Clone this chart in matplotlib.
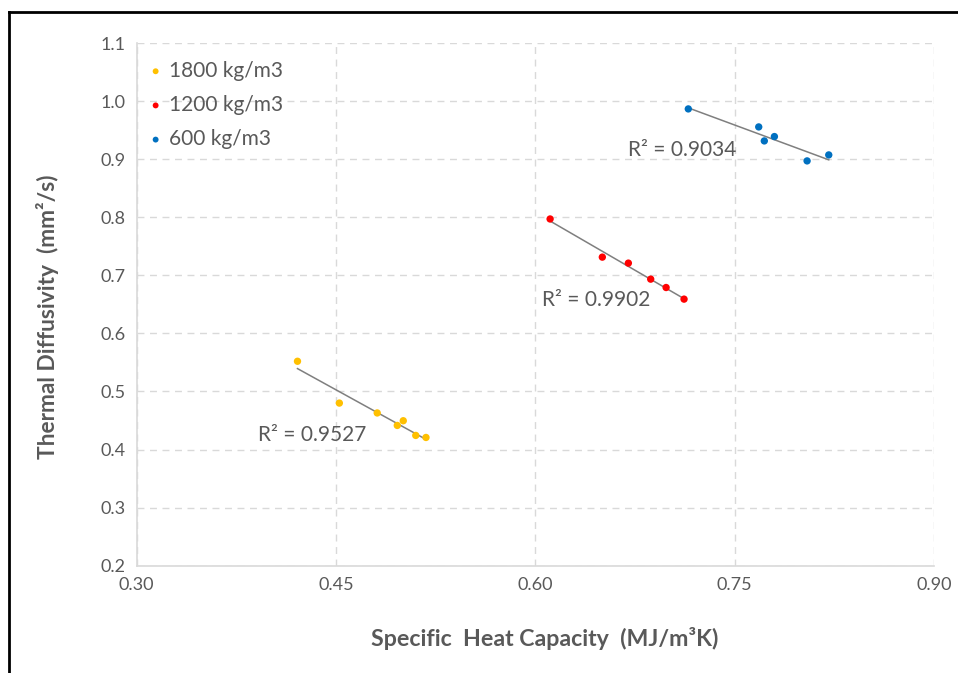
import numpy as np
import matplotlib
matplotlib.use('Agg')
import matplotlib.pyplot as plt
from matplotlib.lines import Line2D

plt.rcParams['font.family'] = ['Lato', 'DejaVu Sans']

# data
cap_1800 = [0.421, 0.4525, 0.481, 0.5006, 0.4961, 0.510, 0.5177]
dif_1800 = [0.552, 0.480, 0.463, 0.4496, 0.4415, 0.4243, 0.4208]

cap_1200 = [0.6111, 0.6504, 0.670, 0.6868, 0.6984, 0.7119]
dif_1200 = [0.797, 0.7313, 0.721, 0.6934, 0.679, 0.659]

cap_600 = [0.7151, 0.7681, 0.7723, 0.7799, 0.8045, 0.8208]
dif_600 = [0.9865, 0.9555, 0.9314, 0.9389, 0.897, 0.9073]

labels = ['1800 kg/m3', '1200 kg/m3', '600 kg/m3']
r2_text = ['R² = 0.9527', 'R² = 0.9902', 'R² = 0.9034']
r2_pos = [(0.391, 0.425), (0.605, 0.6575), (0.6698, 0.9157)]
colors = ['#FFC000', '#FF0000', '#0070C0']

x_ticks = [0.30, 0.45, 0.60, 0.75, 0.90]
y_ticks = [0.2, 0.3, 0.4, 0.5, 0.6, 0.7, 0.8, 0.9, 1.0, 1.1]

txt = '#595959'

fig = plt.figure(figsize=(9.58, 6.73), dpi=100)
ax = fig.add_axes([136.7 / 958, 1 - 565.7 / 673, (934 - 136.7) / 958, (565.7 - 43) / 673])

series = [(cap_1800, dif_1800), (cap_1200, dif_1200), (cap_600, dif_600)]
for (x, y), c, lab, r2, pos in zip(series, colors, labels, r2_text, r2_pos):
    x = np.array(x)
    y = np.array(y)
    k, b = np.polyfit(x, y, 1)
    xs = np.array([x.min(), x.max()])
    ax.plot(xs, k * xs + b, color='#7f7f7f', lw=1.1, zorder=2)
    ax.scatter(x, y, s=28, color=c, zorder=3, label=lab, edgecolors='none')
    ax.text(pos[0], pos[1], r2, color=txt, fontsize=15, va='center', ha='left')

ax.set_xlim(0.30, 0.90)
ax.set_ylim(0.2, 1.1)
ax.set_xticks(x_ticks)
ax.set_xticklabels(['%.2f' % v for v in x_ticks])
ax.set_yticks(y_ticks)
ax.set_yticklabels(['%.1f' % v for v in y_ticks])
ax.tick_params(length=0, labelsize=13, labelcolor=txt, pad=8)

ax.grid(True, ls=(0, (5, 4)), color='#d9d9d9', lw=1)
ax.set_axisbelow(True)
for s in ['top', 'right']:
    ax.spines[s].set_visible(False)
for s in ['left', 'bottom']:
    ax.spines[s].set_color('#d9d9d9')
    ax.spines[s].set_linewidth(1.2)

ax.set_xlabel('Specific  Heat Capacity  (MJ/m³K)', fontsize=16.7, fontweight='bold',
              color=txt)
ax.set_ylabel('Thermal Diffusivity  (mm²/s)', fontsize=16.4, fontweight='bold',
              color=txt)
ax.xaxis.set_label_coords(0.512, -0.118)
ax.yaxis.set_label_coords(-0.097, 0.476)

ax.legend(loc='upper left', frameon=False, fontsize=15, labelcolor=txt,
          markerscale=0.8, handlelength=1, handletextpad=0.15, labelspacing=0.68,
          borderaxespad=0.2, bbox_to_anchor=(-0.005, 0.99))

# partial black frame (top and left) of the original screenshot
fig.add_artist(Line2D([9 / 958, 9 / 958], [0, 1 - 12 / 673], color='black', lw=2))
fig.add_artist(Line2D([9 / 958, 1], [1 - 12 / 673, 1 - 12 / 673], color='black', lw=2))

fig.savefig('out.png', dpi=100)
